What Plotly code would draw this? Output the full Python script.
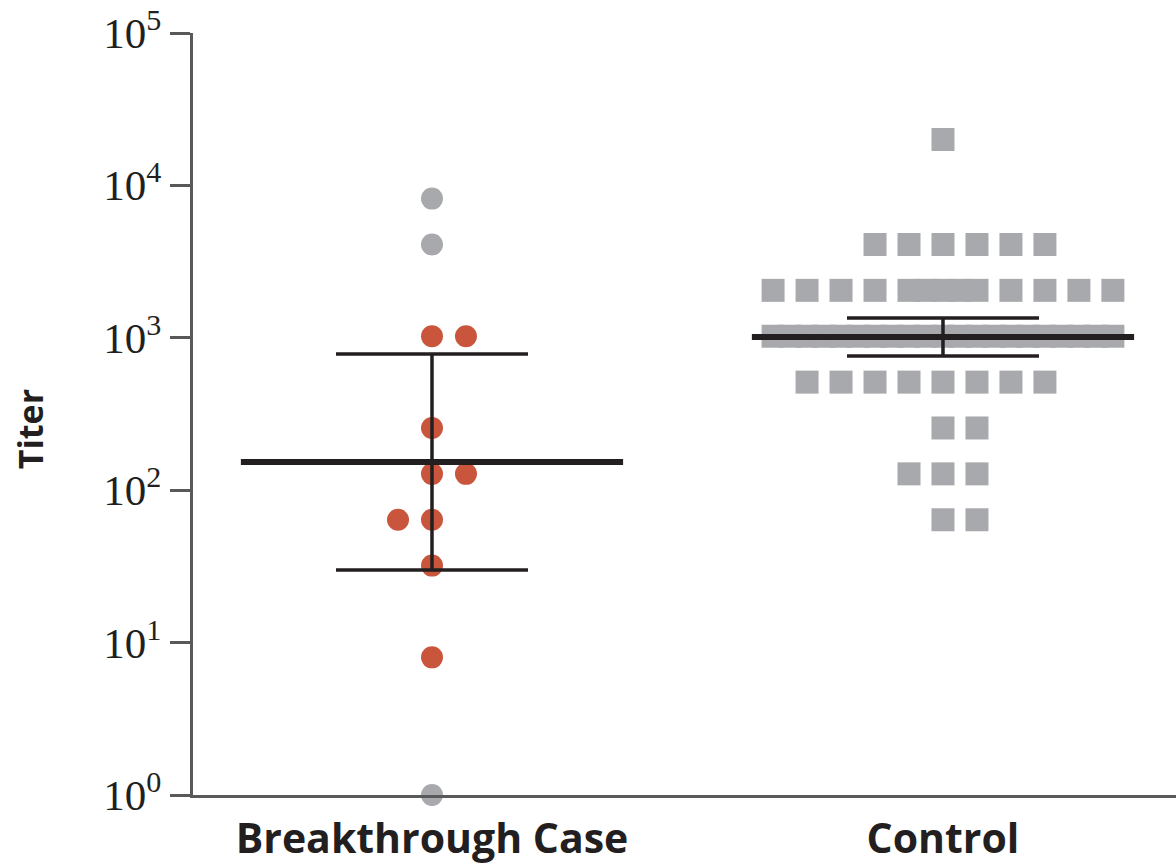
import plotly.graph_objects as go

# ---------------- data ----------------
CATEGORIES = ["Breakthrough Case", "Control"]

# Breakthrough cases: titer values, slot (horizontal stacking index), group
BT_RED_TITER = [1024, 1024, 256, 128, 128, 64, 64, 32, 8]
BT_RED_SLOT = [0, 1, 0, 0, 1, -1, 0, 0, 0]
BT_GRAY_TITER = [8192, 4096, 1]
BT_GRAY_SLOT = [0, 0, 0]

# Controls
CTRL_TITER = (
    [20000]
    + [4096] * 6
    + [2048] * 13
    + [1024] * 21
    + [512] * 8
    + [256] * 2
    + [128] * 3
    + [64] * 2
)
CTRL_SLOT = (
    [0]
    + [-2, -1, 0, 1, 2, 3]
    + [-5, -4, -3, -2, -1, -0.5, 0, 0.5, 1, 2, 3, 4, 5]
    + [-5, -4.5, -4, -3.5, -3, -2.5, -2, -1.5, -1, -0.5, 0, 0.5, 1, 1.5, 2, 2.5, 3, 3.5, 4, 4.5, 5]
    + [-4, -3, -2, -1, 0, 1, 2, 3]
    + [0, 1]
    + [-1, 0, 1]
    + [0, 1]
)

# Geometric mean and 95% CI
GMT = [153, 1012]
CI_LOW = [30, 760]
CI_HIGH = [783, 1350]

TICK_VALS = [1, 10, 100, 1000, 10000, 100000]
TICK_TEXT = ["10<sup>0</sup>", "10<sup>1</sup>", "10<sup>2</sup>",
             "10<sup>3</sup>", "10<sup>4</sup>", "10<sup>5</sup>"]

# ---------------- style ----------------
SLOT_W = 0.0665
MEAN_HALF = 0.374
RED = "#C9553C"
GRAY = "#A8A9AD"
BLACK = "#231F20"
AXIS = "#58595B"

fig = go.Figure()

fig.add_trace(go.Scatter(
    x=[1 + s * SLOT_W for s in CTRL_SLOT], y=CTRL_TITER, mode="markers",
    marker=dict(symbol="square", size=23, color=GRAY, line=dict(width=0)),
    cliponaxis=False, hoverinfo="y", name="Control"))
fig.add_trace(go.Scatter(
    x=[0 + s * SLOT_W for s in BT_GRAY_SLOT], y=BT_GRAY_TITER, mode="markers",
    marker=dict(symbol="circle", size=22, color=GRAY, line=dict(width=0)),
    cliponaxis=False, hoverinfo="y", name="Breakthrough (gray)"))
fig.add_trace(go.Scatter(
    x=[0 + s * SLOT_W for s in BT_RED_SLOT], y=BT_RED_TITER, mode="markers",
    marker=dict(symbol="circle", size=22, color=RED, line=dict(width=0)),
    cliponaxis=False, hoverinfo="y", name="Breakthrough"))

# error bars (95% CI)
fig.add_trace(go.Scatter(
    x=[0, 1], y=GMT, mode="markers", marker=dict(size=1, color="rgba(0,0,0,0)"),
    error_y=dict(type="data", symmetric=False,
                 array=[h - g for h, g in zip(CI_HIGH, GMT)],
                 arrayminus=[g - l for l, g in zip(CI_LOW, GMT)],
                 color=BLACK, thickness=3.5, width=96),
    hoverinfo="skip", showlegend=False))

# geometric mean lines
for i, g in enumerate(GMT):
    fig.add_trace(go.Scatter(
        x=[i - MEAN_HALF, i + MEAN_HALF], y=[g, g], mode="lines",
        line=dict(color=BLACK, width=6), hoverinfo="skip", showlegend=False))

fig.update_layout(
    width=1176, height=867,
    margin=dict(l=193, r=0, t=33, b=72),
    paper_bgcolor="white", plot_bgcolor="white",
    showlegend=False,
    xaxis=dict(
        range=[-0.4677, 1.456], tickvals=[0, 1], ticktext=CATEGORIES,
        showgrid=False, zeroline=False, showline=True, linecolor=AXIS, linewidth=3,
        ticks="", ticklabelstandoff=6, automargin=False,
        tickfont=dict(family="Open Sans", size=41, color=BLACK, weight="bold"),
    ),
    yaxis=dict(
        type="log", range=[0, 5], tickvals=TICK_VALS, ticktext=TICK_TEXT,
        showgrid=False, zeroline=False, showline=True, linecolor=AXIS, linewidth=3,
        ticks="outside", ticklen=20, tickwidth=3, tickcolor=AXIS,
        ticklabeloverflow="allow", automargin=False,
        tickfont=dict(family="Liberation Serif", size=43, color=BLACK),
    ),
    annotations=[dict(
        text="<b>Titer</b>", xref="paper", yref="paper", x=0, y=0.48,
        xanchor="center", yanchor="middle", xshift=-163, textangle=-90,
        showarrow=False, font=dict(family="Open Sans", size=34, color=BLACK))],
)

# remove the default page margin so the figure fills the window exactly
fig.write_html("out.html", config={"displayModeBar": False},
               post_script="document.body.style.margin='0';")
